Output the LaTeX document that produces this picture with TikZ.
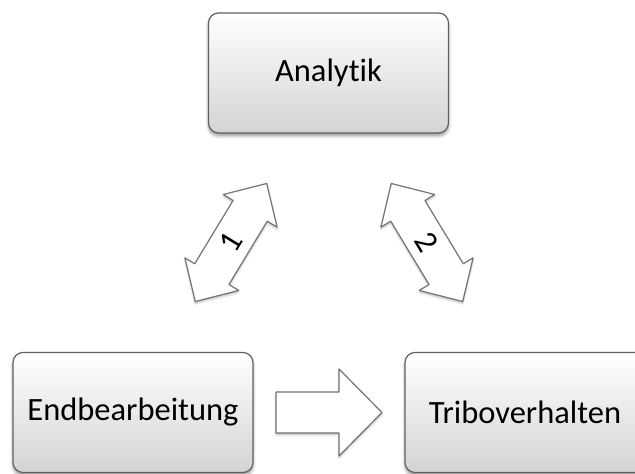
\documentclass[tikz,border=0pt]{standalone}
\usepackage{fontspec}
\setmainfont{Carlito}[Ligatures=NoCommon]
\usetikzlibrary{shadows.blur}

\begin{document}
\begin{tikzpicture}[x=1pt,y=1pt,line width=1.2pt,line join=round,
 font=\fontsize{32.5}{38}\selectfont,
 box/.style={draw=black!62,rounded corners=10pt,minimum width=240pt,
  minimum height=120pt,top color=white,bottom color=black!17,
  blur shadow={shadow xshift=0pt,shadow yshift=-3pt,
   shadow blur radius=3pt,shadow opacity=40}},
 blockarrow/.style={draw=black!55,fill=white,
  blur shadow={shadow xshift=0pt,shadow yshift=-2pt,
   shadow blur radius=2pt,shadow opacity=25}}]
 \useasboundingbox (0,0) rectangle (635,474);
 \node[box] (analytik) at (328.5,401) {Analytik};
 \node[box] (endbearb) at (133,61.5) {Endbearbeitung};
 \node[box] (tribo) at (525,61.5) {Triboverhalten};
 % block arrow between the lower boxes
 \begin{scope}[shift={(329,61.5)}]
  \draw[blockarrow] (-53,20.5)--(10,20.5)--(10,43.5)--(53,0)--(10,-43.5)
   --(10,-20.5)--(-53,-20.5)--cycle;
 \end{scope}
 % double arrows up to Analytik
 \foreach \xpos/\ang/\num in {231/58.8/1,427/-58.8/2}{
  \begin{scope}[shift={(\xpos,231.5)},rotate=\ang]
   \draw[blockarrow] (69,0)--(37,31.5)--(37,20)--(-37,20)--(-37,31.5)
    --(-69,0)--(-37,-31.5)--(-37,-20)--(37,-20)--(37,-31.5)--cycle;
   \node[rotate=\ang] (label\num) at (0,0) {\num};
  \end{scope}
 }
\end{tikzpicture}
\end{document}
